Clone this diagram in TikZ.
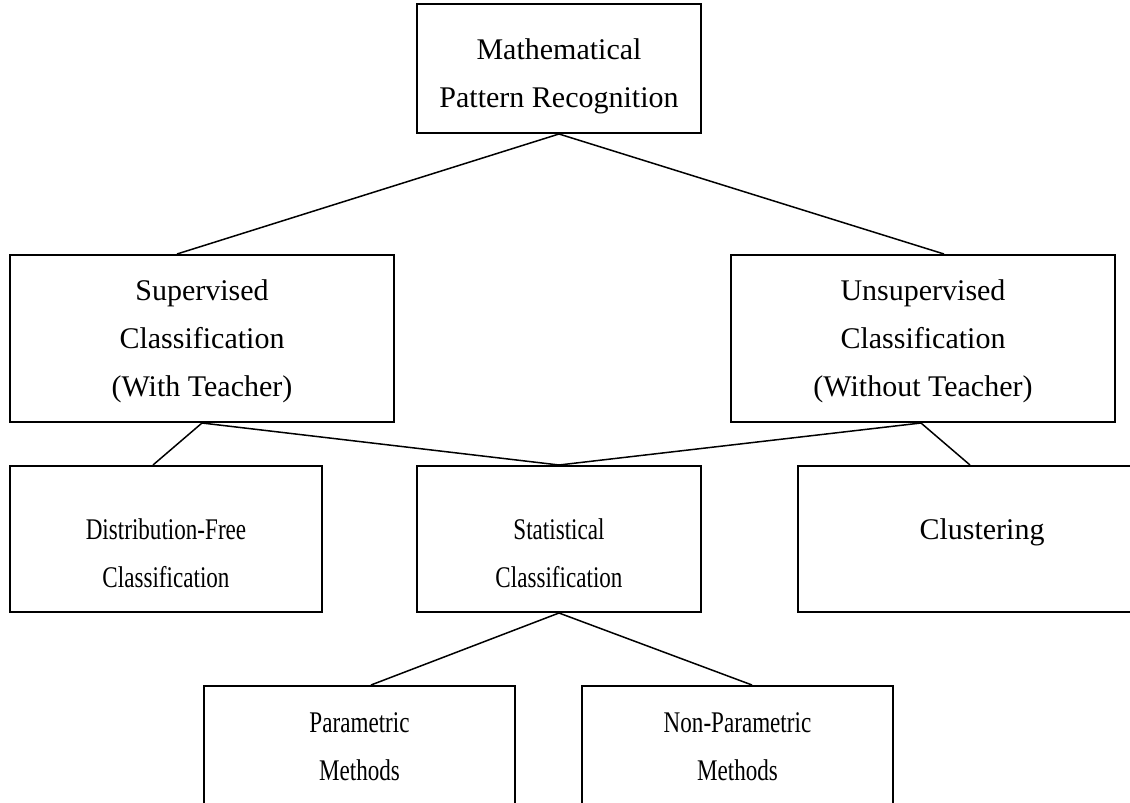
\documentclass[tikz,border=0pt]{standalone}
\usepackage{fontspec}
\setmainfont{Liberation Serif}
\newfontfamily\narrowserif[FakeStretch=0.77]{Liberation Serif}
\usetikzlibrary{calc}

\begin{document}
\begin{tikzpicture}[x=1pt, y=-1pt,
    box/.style={draw, line width=2, inner sep=0, align=center, text depth=0pt,
      font=\fontsize{30}{48}\selectfont},
    narrow/.style={font=\narrowserif\fontsize{30}{48}\selectfont},
    link/.style={line width=1.5}]
  \useasboundingbox (0,0) rectangle (1130,803);
  \clip (0,0) rectangle (1130,803);
  % Topo
  \node[box, minimum width=284, minimum height=129, text height=77] (mpr) at (559,68.5) {Mathematical\\Pattern Recognition};
  % Segundo nivel
  \node[box, minimum width=384, minimum height=167, text height=115] (sup) at (202,338.5) {Supervised\\Classification\\(With Teacher)};
  \node[box, minimum width=384, minimum height=167, text height=115] (unsup) at (923,338.5) {Unsupervised\\Classification\\(Without Teacher)};
  % Terceiro nivel
  \node[box, narrow, minimum width=312, minimum height=146, text height=96] (dfree) at (166,539) {Distribution-Free\\Classification};
  \node[box, narrow, minimum width=284, minimum height=146, text height=96] (stat) at (559,539) {Statistical\\Classification};
  \node[box, minimum width=368, minimum height=146, text height=96] (clus) at (982,539) {Clustering\\~};
  % Quarto nivel
  \node[box, narrow, minimum width=311, minimum height=146, text height=42] (param) at (359.5,759) {Parametric\\Methods};
  \node[box, narrow, minimum width=311, minimum height=146, text height=42] (nonparam) at (737.5,759) {Non-Parametric\\Methods};

  \draw[link] (mpr.south) -- ([xshift=-25]sup.north);
  \draw[link] (mpr.south) -- ([xshift=21]unsup.north);
  \draw[link] (sup.south) -- ([xshift=-13]dfree.north);
  \draw[link] (sup.south) -- (stat.north);
  \draw[link] ([xshift=-2]unsup.south) -- (stat.north);
  \draw[link] ([xshift=-2]unsup.south) -- ([xshift=-12]clus.north);
  \draw[link] (stat.south) -- ([xshift=11.5]param.north);
  \draw[link] (stat.south) -- ([xshift=14.5]nonparam.north);
\end{tikzpicture}
\end{document}
